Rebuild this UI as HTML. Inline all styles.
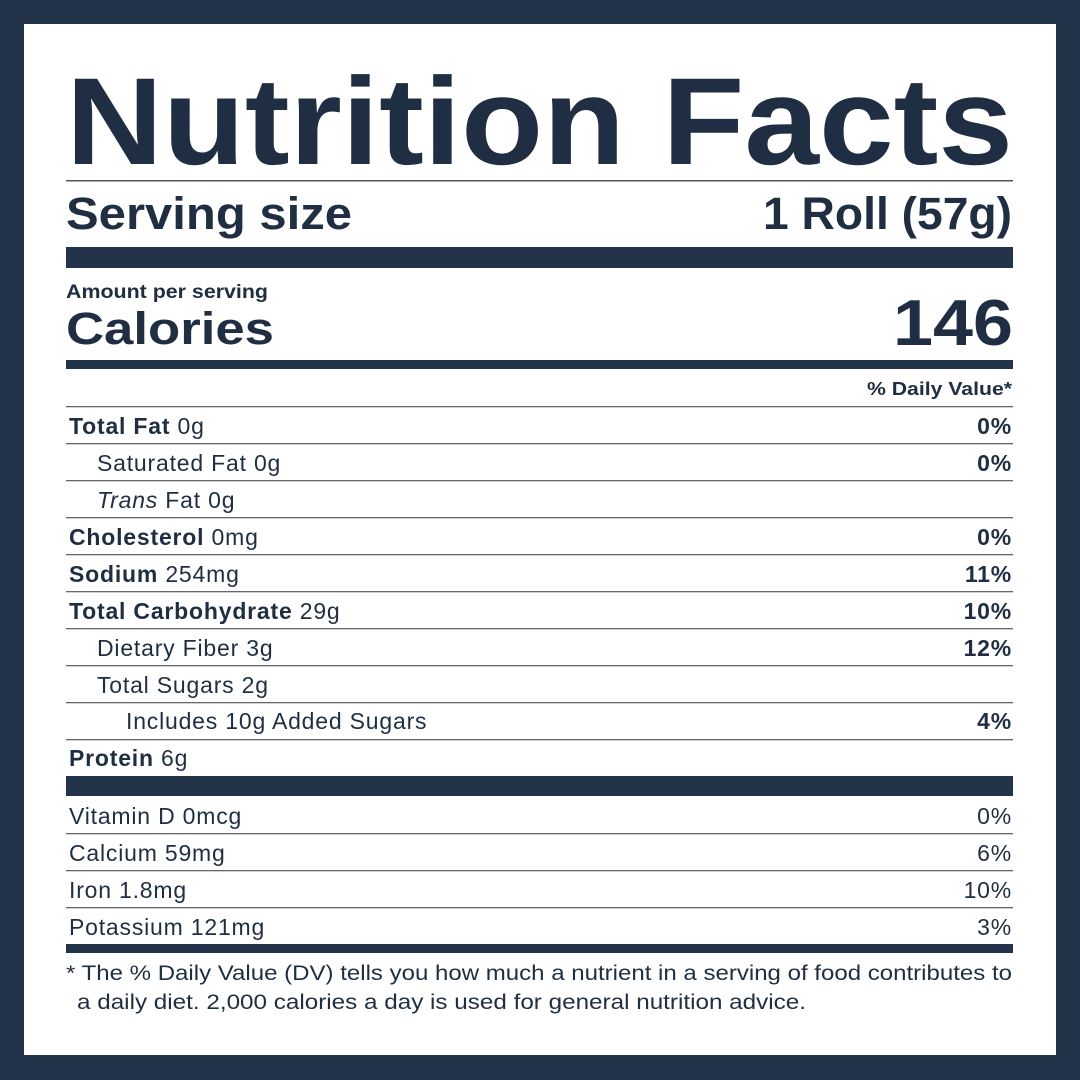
<!DOCTYPE html>
<html><head><meta charset="utf-8"><style>
html,body{margin:0;padding:0;background:#23344a;}
svg{display:block}
text{font-family:"Liberation Sans",Arial,sans-serif;fill:#1f2e42}
.b{font-weight:bold}
.r{font-size:23px;letter-spacing:0.8px}
</style></head><body>
<svg width="1080" height="1080" viewBox="0 0 1080 1080" xmlns="http://www.w3.org/2000/svg">
<rect x="0" y="0" width="1080" height="1080" fill="#23344a"/>
<rect x="24" y="24" width="1032" height="1031" fill="#fff"/>
<text x="66" y="164" class="b" font-size="124" textLength="947" lengthAdjust="spacingAndGlyphs">Nutrition Facts</text>
<rect x="66" y="180" width="947" height="1.5" fill="#555"/>
<text x="66" y="229" class="b" font-size="45" textLength="286" lengthAdjust="spacingAndGlyphs">Serving size</text>
<text x="1012" y="229" class="b" font-size="45" text-anchor="end" textLength="249" lengthAdjust="spacingAndGlyphs">1 Roll (57g)</text>
<rect x="66" y="247" width="947" height="21" fill="#23344a"/>
<text x="66" y="298" class="b" font-size="19" textLength="202" lengthAdjust="spacingAndGlyphs">Amount per serving</text>
<text x="66" y="344" class="b" font-size="45" textLength="208" lengthAdjust="spacingAndGlyphs">Calories</text>
<text x="1013" y="345" class="b" font-size="65" text-anchor="end" textLength="120" lengthAdjust="spacingAndGlyphs">146</text>
<rect x="66" y="360" width="947" height="9" fill="#23344a"/>
<text x="1012" y="395" class="b" font-size="18" text-anchor="end" textLength="145" lengthAdjust="spacingAndGlyphs">% Daily Value*</text>
<g fill="#666">
<rect x="66" y="406" width="947" height="1.3"/>
<rect x="66" y="443" width="947" height="1.3"/>
<rect x="66" y="480" width="947" height="1.3"/>
<rect x="66" y="517" width="947" height="1.3"/>
<rect x="66" y="554" width="947" height="1.3"/>
<rect x="66" y="591" width="947" height="1.3"/>
<rect x="66" y="628" width="947" height="1.3"/>
<rect x="66" y="665" width="947" height="1.3"/>
<rect x="66" y="702" width="947" height="1.3"/>
<rect x="66" y="739" width="947" height="1.3"/>
<rect x="66" y="833" width="947" height="1.3"/>
<rect x="66" y="870" width="947" height="1.3"/>
<rect x="66" y="907" width="947" height="1.3"/>
</g>
<g class="r">
<text x="69" y="434"><tspan class="b">Total Fat</tspan> 0g</text>
<text x="1012" y="434" class="b" text-anchor="end">0%</text>
<text x="97" y="471">Saturated Fat 0g</text>
<text x="1012" y="471" class="b" text-anchor="end">0%</text>
<text x="97" y="508"><tspan font-style="italic">Trans</tspan> Fat 0g</text>
<text x="69" y="545"><tspan class="b">Cholesterol</tspan> 0mg</text>
<text x="1012" y="545" class="b" text-anchor="end">0%</text>
<text x="69" y="582"><tspan class="b">Sodium</tspan> 254mg</text>
<text x="1012" y="582" class="b" text-anchor="end">11%</text>
<text x="69" y="619"><tspan class="b">Total Carbohydrate</tspan> 29g</text>
<text x="1012" y="619" class="b" text-anchor="end">10%</text>
<text x="97" y="656">Dietary Fiber 3g</text>
<text x="1012" y="656" class="b" text-anchor="end">12%</text>
<text x="97" y="693">Total Sugars 2g</text>
<text x="126" y="729">Includes 10g Added Sugars</text>
<text x="1012" y="729" class="b" text-anchor="end">4%</text>
<text x="69" y="766"><tspan class="b">Protein</tspan> 6g</text>
</g>
<rect x="66" y="776" width="947" height="20" fill="#23344a"/>
<g class="r">
<text x="69" y="824">Vitamin D 0mcg</text>
<text x="1012" y="824" text-anchor="end">0%</text>
<text x="69" y="861">Calcium 59mg</text>
<text x="1012" y="861" text-anchor="end">6%</text>
<text x="69" y="898">Iron 1.8mg</text>
<text x="1012" y="898" text-anchor="end">10%</text>
<text x="69" y="935">Potassium 121mg</text>
<text x="1012" y="935" text-anchor="end">3%</text>
</g>
<rect x="66" y="944" width="947" height="9" fill="#23344a"/>
<text x="66" y="980" font-size="21" textLength="946" lengthAdjust="spacingAndGlyphs">* The % Daily Value (DV) tells you how much a nutrient in a serving of food contributes to</text>
<text x="77" y="1009" font-size="21" textLength="729" lengthAdjust="spacingAndGlyphs">a daily diet. 2,000 calories a day is used for general nutrition advice.</text>
</svg>
</body></html>
